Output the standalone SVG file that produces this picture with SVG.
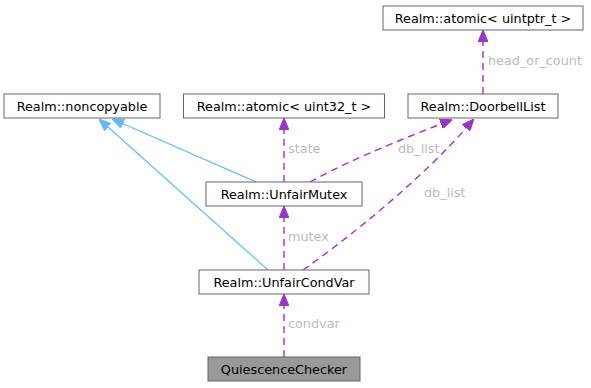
<svg xmlns="http://www.w3.org/2000/svg" width="591" height="388" viewBox="0 0 591 388">
  <style>
    .node rect { fill: #ffffff; stroke: #666666; stroke-width: 1; }
    .node.focus rect { fill: #999999; }
    .node text { font-family: "DejaVu Sans", sans-serif; font-size: 12.8px; fill: #000000; text-anchor: middle; }
    .edge { fill: none; }
    .inherit { stroke: #63b8ff; stroke-width: 1.2; }
    .usage { stroke: #9a32cd; stroke-width: 1.4; stroke-dasharray: 7,5; }
    .label { font-family: "DejaVu Sans", sans-serif; font-size: 12.8px; fill: #bcbcbc; }
  </style>
  <defs>
    <marker id="arrow-blue" viewBox="0 0 12 10" refX="0" refY="5" markerWidth="12" markerHeight="10" markerUnits="userSpaceOnUse" orient="auto">
      <path d="M0,0 L12,5 L0,10 z" fill="#63b8ff" stroke="#63b8ff" stroke-width="1"/>
    </marker>
    <marker id="arrow-purple" viewBox="0 0 12 10" refX="0" refY="5" markerWidth="12" markerHeight="10" markerUnits="userSpaceOnUse" orient="auto">
      <path d="M0,0 L12,5 L0,10 z" fill="#9a32cd" stroke="#9a32cd" stroke-width="1"/>
    </marker>
  </defs>
  <rect width="591" height="388" fill="#ffffff"/>

  <!-- connectors -->
  <g id="edges">
    <path class="edge inherit" d="M256,182 L123,123.8" marker-end="url(#arrow-blue)"/>
    <path class="edge inherit" d="M268,270 L108,127" marker-end="url(#arrow-blue)"/>

    <path class="edge usage" d="M483,94 L483,42" marker-end="url(#arrow-purple)"/>
    <text class="label" x="488" y="65">head_or_count</text>

    <path class="edge usage" d="M284,182 L284,130" marker-end="url(#arrow-purple)"/>
    <text class="label" x="288" y="153">state</text>

    <path class="edge usage" d="M310,182 C350,160 400,140 441,124" marker-end="url(#arrow-purple)"/>
    <text class="label" x="398" y="153">db_list</text>

    <path class="edge usage" d="M303,270 C360,230 430,170 466,128" marker-end="url(#arrow-purple)"/>
    <text class="label" x="424" y="197">db_list</text>

    <path class="edge usage" d="M284,270 L284,218" marker-end="url(#arrow-purple)"/>
    <text class="label" x="288" y="241">mutex</text>

    <path class="edge usage" d="M284,357 L284,306" marker-end="url(#arrow-purple)"/>
    <text class="label" x="288" y="328">condvar</text>
  </g>

  <!-- nodes -->
  <g id="node-atomic-uintptr" class="node">
    <rect x="383" y="6" width="200" height="24"/>
    <text x="483" y="22.5">Realm::atomic&lt; uintptr_t &gt;</text>
  </g>
  <g id="node-noncopyable" class="node">
    <rect x="4" y="94" width="156" height="24"/>
    <text x="82" y="110.5">Realm::noncopyable</text>
  </g>
  <g id="node-atomic-uint32" class="node">
    <rect x="183.5" y="94" width="201" height="24"/>
    <text x="284" y="110.5">Realm::atomic&lt; uint32_t &gt;</text>
  </g>
  <g id="node-doorbelllist" class="node">
    <rect x="408" y="94" width="150" height="24"/>
    <text x="483" y="110.5">Realm::DoorbellList</text>
  </g>
  <g id="node-unfairmutex" class="node">
    <rect x="206" y="182" width="156" height="24"/>
    <text x="284" y="198.5">Realm::UnfairMutex</text>
  </g>
  <g id="node-unfaircondvar" class="node">
    <rect x="199" y="270" width="170" height="24"/>
    <text x="284" y="286.5">Realm::UnfairCondVar</text>
  </g>
  <g id="node-quiescencechecker" class="node focus">
    <rect x="208" y="357" width="152" height="24"/>
    <text x="284" y="373.5">QuiescenceChecker</text>
  </g>
</svg>
